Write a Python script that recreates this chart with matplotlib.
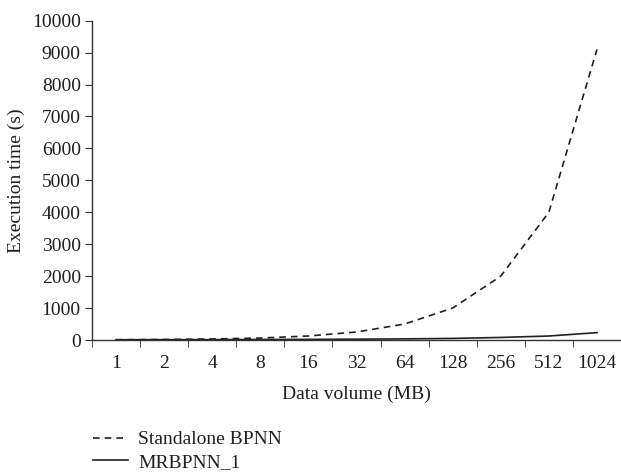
import matplotlib
matplotlib.use("Agg")
import matplotlib.pyplot as plt
import numpy as np

categories = ["1", "2", "4", "8", "16", "32", "64", "128", "256", "512", "1024"]
standalone_bpnn = [8, 16, 31, 62, 125, 250, 500, 1000, 2000, 4000, 9100]
mrbpnn_1 = [8, 10, 12, 15, 20, 25, 35, 50, 80, 125, 230]
y_ticks = [0, 1000, 2000, 3000, 4000, 5000, 6000, 7000, 8000, 9000, 10000]

plt.rcParams['font.family'] = ['Liberation Serif', 'DejaVu Serif']

fig = plt.figure(figsize=(6.21, 4.74), dpi=100)
ax = fig.add_axes([0.148, 0.2827, 0.852, 0.6736])

x = np.arange(len(categories))
ax.plot(x, standalone_bpnn, color='#231f20', linestyle=(0, (4, 3)), linewidth=1.2,
        label='Standalone BPNN')
ax.plot(x, mrbpnn_1, color='#231f20', linestyle='-', linewidth=1.2, label='MRBPNN_1')

ax.set_xlim(-0.5, len(categories) - 0.5)
ax.set_ylim(0, 10000)
ax.set_yticks(y_ticks)
ax.set_yticklabels([str(v) for v in y_ticks])
ax.set_xticks(x)
ax.set_xticklabels(categories)
ax.set_xticks(np.arange(len(categories)) - 0.5, minor=True)

for s in ['top', 'right']:
    ax.spines[s].set_visible(False)
for s in ['left', 'bottom']:
    ax.spines[s].set_color('#333333')
    ax.spines[s].set_linewidth(1.0)

fs = 14
ax.tick_params(axis='x', which='major', length=0, pad=11, labelsize=fs, colors='#231f20')
ax.tick_params(axis='x', which='minor', length=5, direction='out', color='#333333')
ax.tick_params(axis='y', which='major', length=5, direction='out', pad=3,
               labelsize=fs, colors='#231f20', color='#333333')

ax.set_xlabel('Data volume (MB)', fontsize=fs, color='#231f20', labelpad=10)
ax.set_ylabel('Execution time (s)', fontsize=fs, color='#231f20', labelpad=5)

fig.legend(loc='upper left', bbox_to_anchor=(0.121, 0.128), frameon=False,
           fontsize=fs, handlelength=1.8, handletextpad=0.55, labelspacing=0.25,
           labelcolor='#231f20')

fig.savefig('out.png', dpi=100)
